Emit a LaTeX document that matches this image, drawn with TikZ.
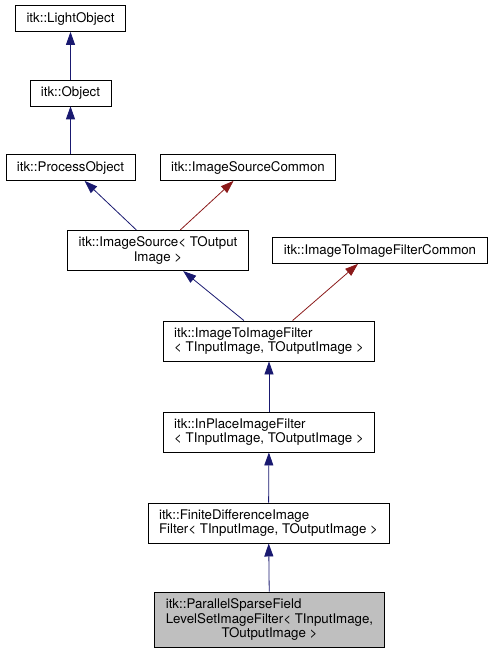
\documentclass[tikz,border=0pt]{standalone}
\usepackage{fontspec}
\setmainfont{TeX Gyre Heros}
\usepackage{tikz}
\usetikzlibrary{arrows.meta}
\definecolor{edgeblue}{HTML}{191970}
\definecolor{edgered}{HTML}{8B1A1A}
\definecolor{curgray}{HTML}{BFBFBF}
\tikzset{
    cls/.style={
        draw=black,
        fill=white,
        line width=0.8pt,
        inner xsep=11pt,
        inner ysep=6.5pt,
        font=\fontsize{13.3}{14.5}\selectfont
    },
    pub/.style={
        draw=edgeblue,
        line width=0.8pt,
        -{Triangle[length=13pt, width=9pt]}
    },
    tmpl/.style={
        pub,
        draw=edgered
    }
}

\begin{document}
\begin{tikzpicture}[x=1pt, y=-1pt]
    \useasboundingbox (0,0) rectangle (492,653);

    % Base classes
    \node[cls] (lo) at (70.5,18.5) {itk::LightObject};
    \node[cls] (obj) at (70.5,93) {itk::Object};
    \node[cls] (po) at (70.5,167.5) {itk::ProcessObject};
    \node[cls] (isc) at (248,167.5) {itk::ImageSourceCommon};

    % Image source and filter hierarchy
    \node[cls, align=center] (is) at (158,250.5) {itk::ImageSource< TOutput\\Image >};
    \node[cls] (itc) at (380,250.5) {itk::ImageToImageFilterCommon};
    \node[cls, align=left] (itf) at (269,341) {itk::ImageToImageFilter\\< TInputImage, TOutputImage >};
    \node[cls, align=left] (ipf) at (269,432) {itk::InPlaceImageFilter\\< TInputImage, TOutputImage >};
    \node[cls, align=left] (fd) at (268.5,523) {itk::FiniteDifferenceImage\\Filter< TInputImage, TOutputImage >};

    % The documented class
    \node[cls, fill=curgray, align=center] (psf) at (269.5,619.5) {\begin{tabular}[b]{@{}l@{}}itk::ParallelSparseField\\LevelSetImageFilter< TInputImage,\end{tabular}\\TOutputImage >};

    % Inheritance edges
    \draw[pub] (obj) -- (lo);
    \draw[pub] (po) -- (obj);
    \draw[pub] (is) -- (po);
    \draw[tmpl] (is) -- (isc);
    \draw[pub] (itf) -- (is);
    \draw[tmpl] (itf) -- ([xshift=-22pt]itc.south);
    \draw[pub] (ipf) -- (itf);
    \draw[pub] (fd) -- (ipf);
    \draw[pub] (psf) -- (fd);
\end{tikzpicture}
\end{document}
